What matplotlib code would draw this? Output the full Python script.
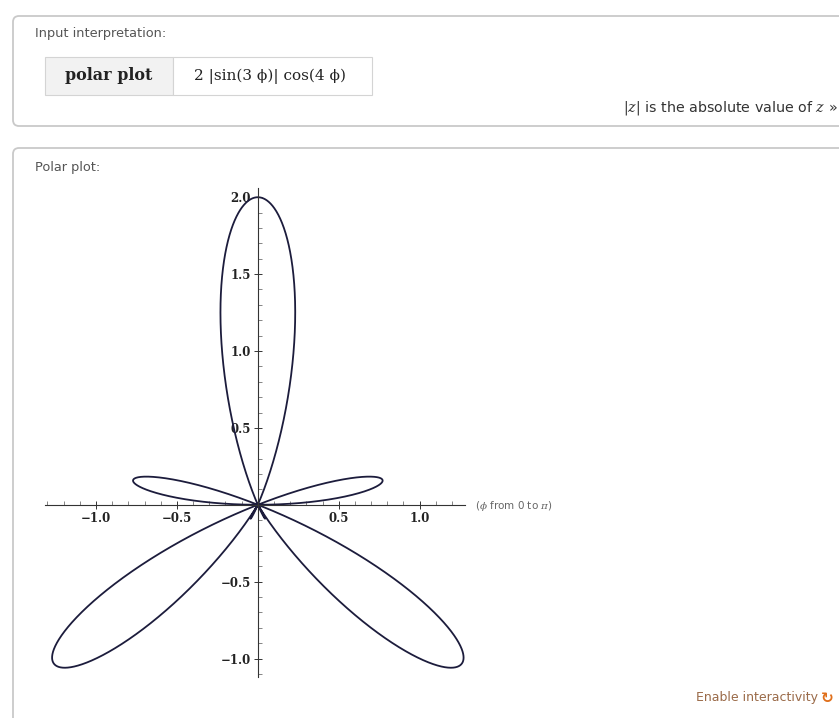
import numpy as np
import matplotlib.pyplot as plt
from matplotlib.patches import FancyBboxPatch, Rectangle
from matplotlib.ticker import FixedLocator, FixedFormatter, MultipleLocator

# curve parameters: r = amplitude * |sin(sin_freq*phi)| * cos(cos_freq*phi)
amplitude = 2.0
sin_freq = 3
cos_freq = 4
phi_start = 0.0
phi_end = np.pi

x_major = [-1.0, -0.5, 0.5, 1.0]
x_labels = ["\u22121.0", "\u22120.5", "0.5", "1.0"]
y_major = [-1.0, -0.5, 0.5, 1.0, 1.5, 2.0]
y_labels = ["\u22121.0", "\u22120.5", "0.5", "1.0", "1.5", "2.0"]

input_label = "Input interpretation:"
cell_left = "polar plot"
cell_right = "2 |sin(3 \u03d5)| cos(4 \u03d5)"
abs_note = "|$z$| is the absolute value of $z$ \u00bb"
pod_title = "Polar plot:"
range_note = "($\\phi$ from 0 to $\\pi$)"
footer = "Enable interactivity"

W, H = 839, 718
fig = plt.figure(figsize=(W / 100, H / 100), dpi=100)
fig.patch.set_facecolor("white")
plt.rcParams["mathtext.fontset"] = "dejavuserif"

# page layer in pixel coordinates
bg = fig.add_axes([0, 0, 1, 1])
bg.set_xlim(0, W)
bg.set_ylim(H, 0)
bg.axis("off")

border = "#c9c9c9"
bg.add_patch(FancyBboxPatch((13, 16), 860, 110, boxstyle="round,pad=0,rounding_size=6",
                            fc="white", ec=border, lw=1.3))
bg.add_patch(FancyBboxPatch((13, 148), 860, 600, boxstyle="round,pad=0,rounding_size=6",
                            fc="white", ec=border, lw=1.3))

bg.text(35, 34, input_label, fontsize=9.3, color="#555555", va="center", family="DejaVu Sans")

# interpretation table
bg.add_patch(Rectangle((45, 57), 128, 38, fc="#f2f2f2", ec="#d4d4d4", lw=0.8))
bg.add_patch(Rectangle((173, 57), 199, 38, fc="white", ec="#d4d4d4", lw=0.8))
bg.text(109, 76, cell_left, fontsize=11.5, color="#222222", ha="center", va="center",
        family="DejaVu Serif", weight="bold")
bg.text(270, 76, cell_right, fontsize=11, color="#222222", ha="center", va="center",
        family="DejaVu Serif")

bg.text(623, 108, abs_note, fontsize=10.3, color="#333333", va="center", family="DejaVu Sans")

bg.text(35, 168, pod_title, fontsize=9.3, color="#555555", va="center", family="DejaVu Sans")

bg.text(475, 506, range_note, fontsize=7.5, color="#666666", va="center", family="DejaVu Sans")

bg.text(818, 698, footer, fontsize=9, color="#9a6a48", ha="right", va="center",
        family="DejaVu Sans")
bg.text(821, 698, "\u21bb", fontsize=11, color="#e0701c", ha="left", va="center",
        family="DejaVu Sans", weight="bold")

# polar curve drawn on cartesian axes crossing at the origin
phi = np.linspace(phi_start, phi_end, 4000)
r = amplitude * np.abs(np.sin(sin_freq * phi)) * np.cos(cos_freq * phi)
x = r * np.cos(phi)
y = r * np.sin(phi)

left, right, top, bottom = 45, 465, 188, 677
ax = fig.add_axes([left / W, 1 - bottom / H, (right - left) / W, (bottom - top) / H])
ax.patch.set_alpha(0)
ax.plot(x, y, color="#1c1c3c", lw=1.3)
ax.set_xlim(-1.315, 1.28)
ax.set_ylim(-1.12, 2.06)

for side in ["top", "right"]:
    ax.spines[side].set_visible(False)
ax.spines["left"].set_position(("data", 0))
ax.spines["bottom"].set_position(("data", 0))
for side in ["left", "bottom"]:
    ax.spines[side].set_color("#333333")
    ax.spines[side].set_linewidth(0.8)

ax.xaxis.set_major_locator(FixedLocator(x_major))
ax.xaxis.set_major_formatter(FixedFormatter(x_labels))
ax.yaxis.set_major_locator(FixedLocator(y_major))
ax.yaxis.set_major_formatter(FixedFormatter(y_labels))
ax.xaxis.set_minor_locator(MultipleLocator(0.1))
ax.yaxis.set_minor_locator(MultipleLocator(0.1))

ax.tick_params(which="major", direction="inout", length=6, width=0.7, color="#333333",
               labelsize=8.5, labelcolor="#222222", pad=2)
ax.tick_params(which="minor", direction="in", length=3, width=0.5, color="#555555")
for lab in ax.get_xticklabels() + ax.get_yticklabels():
    lab.set_family("DejaVu Serif")
    lab.set_weight("bold")

fig.savefig("out.png", dpi=100, facecolor="white")
